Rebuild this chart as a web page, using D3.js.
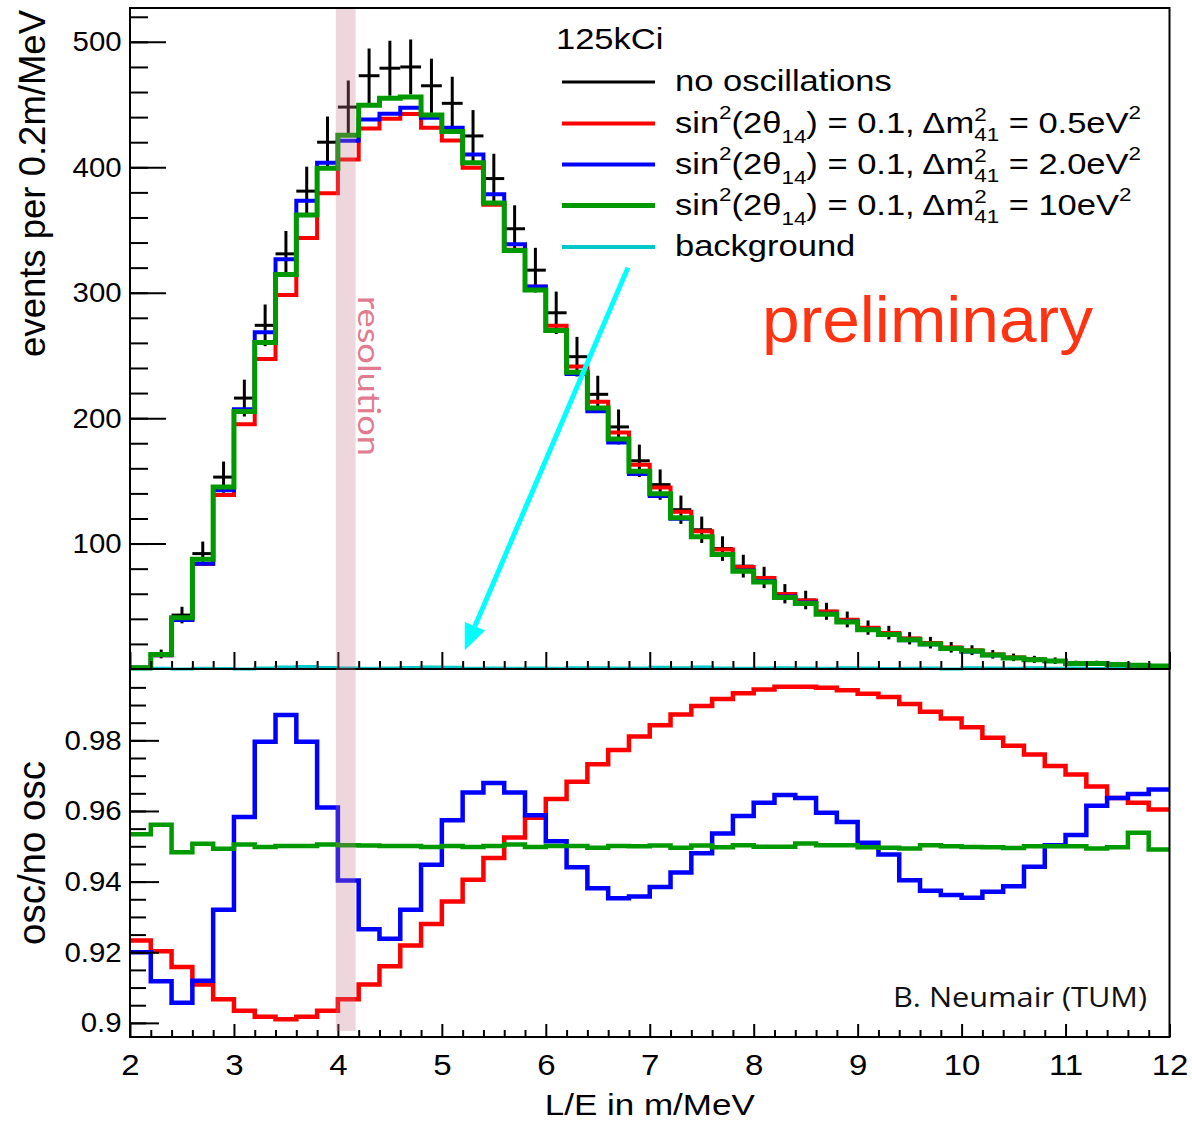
<!DOCTYPE html>
<html>
<head>
<meta charset="utf-8">
<script src="https://cdn.jsdelivr.net/npm/d3@7"></script>
<style>
  body { margin: 0; background: #fff; }
  svg { display: block; }
  text { white-space: pre; }
</style>
</head>
<body>
<div id="chart"></div>
<script>
// ---------------------------------------------------------------- data
// 50 bins of 0.2 m/MeV between 2 and 12
const binLow = d3.range(50).map(i => 2 + i * 0.2);

// events per bin, no oscillations (black crosses) and their errors
const noOsc = [1, 12, 43, 92, 153, 216, 274, 331, 381, 420,
  448, 473, 479, 480, 465, 451, 425, 391, 351, 318,
  284, 249, 219, 193, 166, 147, 127, 111, 96, 82,
  73, 60, 55, 46, 39.5, 33, 29, 24.5, 21, 17.3,
  15, 11.7, 9.3, 7.7, 6.6, 4.5, 4.5, 3.7, 3, 2.4];
const noOscErr = [1, 3.5, 6.6, 9.6, 12.4, 14.7, 16.6, 18.2, 19.5, 20.5,
  21.2, 21.7, 21.9, 21.9, 21.6, 21.2, 20.6, 19.8, 18.7, 17.8,
  16.9, 15.8, 14.8, 13.9, 12.9, 12.1, 11.3, 10.5, 9.8, 9.1,
  8.5, 7.7, 7.4, 6.8, 6.3, 5.7, 5.4, 4.9, 4.6, 4.2,
  3.9, 3.4, 3.0, 2.8, 2.6, 2.1, 2.1, 1.9, 1.7, 1.5];

// oscillated spectra (dm2 = 0.5, 2.0, 10 eV2)
const spec05 = [0.9, 11.0, 39.4, 83.8, 138.7, 195.1, 247.1, 298.2, 343.7, 379.4,
  406.3, 430.9, 438.8, 442.5, 431.5, 421.4, 399.7, 370.2, 334.3, 304.7,
  273.6, 241.1, 213.1, 188.6, 162.8, 144.7, 125.4, 109.9, 95.2, 81.4,
  72.6, 59.7, 54.7, 45.8, 39.3, 32.8, 28.8, 24.3, 20.7, 17.1,
  14.8, 11.5, 9.1, 7.5, 6.4, 4.4, 4.4, 3.6, 2.9, 2.3];
const spec20 = [0.9, 10.9, 39.0, 83.9, 142.6, 207.0, 268.5, 326.7, 373.4, 403.6,
  421.1, 438.2, 442.6, 447.4, 439.4, 431.6, 410.1, 378.5, 338.7, 305.0,
  270.1, 235.1, 205.4, 180.5, 155.4, 138.0, 119.8, 105.2, 91.6, 78.6,
  70.2, 57.9, 53.0, 44.1, 37.8, 31.4, 27.5, 23.0, 19.7, 16.2,
  14.0, 11.0, 8.7, 7.3, 6.3, 4.3, 4.3, 3.6, 2.9, 2.3];
const spec10 = [1.0, 11.5, 40.8, 87.5, 145.2, 205.3, 260.3, 314.5, 362.0, 399.2,
  425.6, 449.4, 455.1, 456.0, 441.7, 428.5, 403.7, 371.5, 333.6, 302.1,
  269.8, 236.6, 208.0, 183.4, 157.7, 139.7, 120.6, 105.5, 91.2, 77.9,
  69.4, 57.0, 52.3, 43.7, 37.5, 31.3, 27.6, 23.3, 20.0, 16.4,
  14.3, 11.1, 8.8, 7.3, 6.3, 4.3, 4.3, 3.5, 2.9, 2.3];
const background = [0, 0.6, 0, 0.5, 0.3, 0, 0.8, 1.6, 2.0, 1.2,
  0.8, 0.6, 0.8, 1.2, 1.5, 1.4, 0.6, 0.8, 0.5, 0.8,
  0.6, 0.9, 1.0, 0.7, 0.8, 1.3, 0.9, 1.5, 0.7, 0.6,
  0.8, 0.9, 0.7, 0.6, 1.0, 0.8, 0.4, 0.6, 0.8, 0,
  1.0, 0.7, 0.6, 0.9, 0.5, 0.8, 0.4, 0.8, 0.5, 0.6];

// osc / no osc ratios
const ratio05 = [0.9233, 0.9203, 0.9158, 0.9109, 0.9067, 0.9034, 0.9017, 0.9010, 0.9017, 0.9034,
  0.9067, 0.9109, 0.9160, 0.9219, 0.9280, 0.9344, 0.9405, 0.9467, 0.9525, 0.9581,
  0.9634, 0.9683, 0.9732, 0.9773, 0.9811, 0.9843, 0.9873, 0.9897, 0.9917, 0.9933,
  0.9944, 0.9952, 0.9952, 0.9949, 0.9942, 0.9932, 0.9923, 0.9903, 0.9881, 0.9862,
  0.9837, 0.9807, 0.9785, 0.9760, 0.9727, 0.9703, 0.9669, 0.9637, 0.9623, 0.9604];
const ratio20 = [0.9200, 0.9118, 0.9057, 0.9119, 0.9320, 0.9583, 0.9796, 0.9872, 0.9796, 0.9610,
  0.9403, 0.9265, 0.9238, 0.9320, 0.9448, 0.9574, 0.9652, 0.9679, 0.9652, 0.9588,
  0.9514, 0.9441, 0.9381, 0.9353, 0.9358, 0.9385, 0.9426, 0.9480, 0.9536, 0.9586,
  0.9623, 0.9645, 0.9637, 0.9595, 0.9569, 0.9510, 0.9477, 0.9404, 0.9374, 0.9362,
  0.9354, 0.9371, 0.9387, 0.9442, 0.9503, 0.9532, 0.9615, 0.9637, 0.9648, 0.9661];
const ratio10 = [0.9534, 0.9561, 0.9483, 0.9507, 0.9493, 0.9505, 0.9498, 0.9501, 0.9501, 0.9505,
  0.9503, 0.9502, 0.9501, 0.9501, 0.9498, 0.9501, 0.9498, 0.9501, 0.9505, 0.9498,
  0.9501, 0.9501, 0.9496, 0.9501, 0.9500, 0.9502, 0.9496, 0.9502, 0.9497, 0.9503,
  0.9499, 0.9499, 0.9508, 0.9503, 0.9503, 0.9497, 0.9496, 0.9494, 0.9503, 0.9500,
  0.9498, 0.9497, 0.9495, 0.9500, 0.9500, 0.9500, 0.9494, 0.9497, 0.9538, 0.9491];

// ticks and labels
const xTicks = [2, 3, 4, 5, 6, 7, 8, 9, 10, 11, 12];
const topYTicks = [100, 200, 300, 400, 500];
const ratioYTicks = [0.9, 0.92, 0.94, 0.96, 0.98];
const legendHeader = "125kCi";
const legendLabels = [
  "no oscillations",
  "sin^{2}(2θ_{14}) = 0.1, Δm^{2}_{41} = 0.5eV^{2}",
  "sin^{2}(2θ_{14}) = 0.1, Δm^{2}_{41} = 2.0eV^{2}",
  "sin^{2}(2θ_{14}) = 0.1, Δm^{2}_{41} = 10eV^{2}",
  "background"
];
const resolutionBand = [3.98, 4.17];
const arrowFrom = [6.79, 320], arrowTo = [5.22, 15];

////////////////////////////////////////////////////////////////////
//////////////////////////////  Init  //////////////////////////////
const FONT = "'Liberation Sans', Arial, Helvetica, sans-serif";
const width = 1192, height = 1124;
const svg = d3.select("#chart").append("svg")
  .attr("width", width).attr("height", height)
  .attr("font-family", FONT);

const frameL = 130, frameR = 1169.5, topT = 8, split = 669, botB = 1037;

const x = d3.scaleLinear().domain([2, 12]).range([frameL, frameR]);
const yTop = d3.scaleLinear().domain([0, 527]).range([split, topT]);
const yBot = d3.scaleLinear().domain([0.896, 1.0002]).range([botB, split]);

const colors = { none: "#000", m05: "#ff0000", m20: "#0000ff", m10: "#009900", bkg: "#00c8c8" };

function stepPath(values, y) {
  const pts = values.map((v, i) => [binLow[i], v]);
  pts.push([binLow[binLow.length - 1] + 0.2, values[values.length - 1]]);
  return d3.line().x(d => x(d[0])).y(d => y(d[1])).curve(d3.curveStepAfter)(pts);
}

function styleAxis(g, size, sx) {
  g.select(".domain").remove();
  g.attr("font-family", FONT).attr("font-size", size);
  g.selectAll(".tick line").attr("stroke", "#000").attr("stroke-width", 2);
  g.selectAll(".tick text").attr("fill", "#000").attr("transform", `scale(${sx},1)`);
}

////////////////////////////////////////////////////////////////////
//////////////////////////////  Top pad  ///////////////////////////
// black crosses
const cross = svg.append("g").attr("stroke", colors.none).attr("stroke-width", 3);
noOsc.forEach((v, i) => {
  const cx = x(binLow[i] + 0.1);
  cross.append("line")
    .attr("x1", x(binLow[i])).attr("x2", x(binLow[i] + 0.2))
    .attr("y1", yTop(v)).attr("y2", yTop(v));
  cross.append("line")
    .attr("x1", cx).attr("x2", cx)
    .attr("y1", yTop(Math.max(0, v - noOscErr[i]))).attr("y2", yTop(v + noOscErr[i]));
});

svg.append("path").attr("d", stepPath(background, yTop))
  .attr("fill", "none").attr("stroke", colors.bkg).attr("stroke-width", 3);
[[spec05, colors.m05, 4], [spec20, colors.m20, 4], [spec10, colors.m10, 5]].forEach(([vals, c, w]) => {
  svg.append("path").attr("d", stepPath(vals, yTop))
    .attr("fill", "none").attr("stroke", c).attr("stroke-width", w);
});

// axes of top pad
const gTopY = svg.append("g").attr("transform", `translate(${frameL},0)`)
  .call(d3.axisLeft(yTop).tickValues(topYTicks).tickSize(-36).tickPadding(8).tickFormat(d3.format("d")));
styleAxis(gTopY, 28, 1.05);
const gTopYm = svg.append("g").attr("transform", `translate(${frameL},0)`)
  .call(d3.axisLeft(yTop).tickValues(d3.range(20, 527, 20)).tickSize(-18).tickFormat(""));
styleAxis(gTopYm, 28, 1);

const minorX = binLow.filter((d, i) => i % 5 !== 0);
const gTopX = svg.append("g").attr("transform", `translate(0,${split})`)
  .call(d3.axisBottom(x).tickValues(xTicks).tickSize(-17).tickFormat(""));
styleAxis(gTopX, 28, 1);
const gTopXm = svg.append("g").attr("transform", `translate(0,${split})`)
  .call(d3.axisBottom(x).tickValues(minorX).tickSize(-8).tickFormat(""));
styleAxis(gTopXm, 28, 1);

// arrow towards the background
{
  const ax0 = x(arrowFrom[0]), ay0 = yTop(arrowFrom[1]);
  const ax1 = x(arrowTo[0]), ay1 = yTop(arrowTo[1]);
  const len = Math.hypot(ax1 - ax0, ay1 - ay0);
  const ux = (ax1 - ax0) / len, uy = (ay1 - ay0) / len;
  const hl = 26, hw = 11;
  svg.append("line")
    .attr("x1", ax0).attr("y1", ay0)
    .attr("x2", ax1 - ux * hl).attr("y2", ay1 - uy * hl)
    .attr("stroke", "#00ffff").attr("stroke-width", 5);
  const bx = ax1 - ux * hl, by = ay1 - uy * hl;
  svg.append("polygon")
    .attr("points", [[ax1, ay1], [bx - uy * hw, by + ux * hw], [bx + uy * hw, by - ux * hw]].map(p => p.join(",")).join(" "))
    .attr("fill", "#00ffff");
}

// titles
svg.append("text")
  .attr("transform", "translate(45,10) rotate(-90)")
  .attr("text-anchor", "end").attr("font-size", 36.5).attr("fill", "#000")
  .text("events per 0.2m/MeV");

svg.append("text")
  .attr("x", 762).attr("y", 342)
  .attr("font-size", 64).attr("fill", "#ff3311")
  .attr("textLength", 331).attr("lengthAdjust", "spacingAndGlyphs")
  .text("preliminary");

////////////////////////////////////////////////////////////////////
//////////////////////////////  Legend  ////////////////////////////
function parseTex(s) {
  const out = [];
  let i = 0, buf = "";
  while (i < s.length) {
    if ((s[i] === "^" || s[i] === "_") && s[i + 1] === "{") {
      if (buf) { out.push({ t: "n", s: buf }); buf = ""; }
      const j = s.indexOf("}", i);
      out.push({ t: s[i] === "^" ? "sup" : "sub", s: s.slice(i + 2, j) });
      i = j + 1;
    } else { buf += s[i]; i++; }
  }
  if (buf) out.push({ t: "n", s: buf });
  return out;
}

function texLabel(g, str, size) {
  const parts = parseTex(str);
  const small = size * 0.65;
  let cx = 0;
  for (let i = 0; i < parts.length; i++) {
    const p = parts[i];
    if (p.t === "n") {
      const t = g.append("text").attr("x", cx).attr("y", 0).attr("font-size", size).text(p.s);
      cx += t.node().getComputedTextLength();
    } else {
      let sup = p.t === "sup" ? p : null;
      let sub = p.t === "sub" ? p : null;
      const stacked = sup && parts[i + 1] && parts[i + 1].t === "sub";
      if (stacked) { sub = parts[i + 1]; i++; }
      let w = 0;
      if (sup) {
        const t = g.append("text").attr("x", cx)
          .attr("y", -size * (stacked ? 0.40 : 0.46)).attr("font-size", small).text(sup.s);
        w = Math.max(w, t.node().getComputedTextLength());
      }
      if (sub) {
        const t = g.append("text").attr("x", cx)
          .attr("y", size * (stacked ? 0.28 : 0.36)).attr("font-size", small).text(sub.s);
        w = Math.max(w, t.node().getComputedTextLength());
      }
      cx += w;
    }
  }
}

const legend = svg.append("g");
const legendSize = 29, legendSx = 1.19;
const rowLineY = [82, 123.5, 164.5, 205.5, 247];
const legendColors = [colors.none, colors.m05, colors.m20, colors.m10, colors.bkg];
const legendWidths = [3, 4, 4, 5, 4];

legend.append("g").attr("transform", `translate(556,49) scale(${legendSx},1)`)
  .append("text").attr("font-size", legendSize).attr("fill", "#000").text(legendHeader);

legendLabels.forEach((lab, i) => {
  legend.append("line")
    .attr("x1", 562).attr("x2", 655)
    .attr("y1", rowLineY[i]).attr("y2", rowLineY[i])
    .attr("stroke", legendColors[i]).attr("stroke-width", legendWidths[i]);
  const g = legend.append("g")
    .attr("transform", `translate(675,${rowLineY[i] + 9}) scale(${legendSx},1)`)
    .attr("fill", "#000");
  texLabel(g, lab, legendSize);
});

////////////////////////////////////////////////////////////////////
//////////////////////////////  Ratio pad  /////////////////////////
[[ratio05, colors.m05], [ratio20, colors.m20], [ratio10, colors.m10]].forEach(([vals, c]) => {
  svg.append("path").attr("d", stepPath(vals, yBot))
    .attr("fill", "none").attr("stroke", c).attr("stroke-width", 4.5);
});

const gBotY = svg.append("g").attr("transform", `translate(${frameL},0)`)
  .call(d3.axisLeft(yBot).tickValues(ratioYTicks).tickSize(-29).tickPadding(8).tickFormat(d3.format("~g")));
styleAxis(gBotY, 28, 1.05);
const gBotYm = svg.append("g").attr("transform", `translate(${frameL},0)`)
  .call(d3.axisLeft(yBot).tickValues(d3.range(180, 200).map(k => k * 0.005)).tickSize(-16).tickFormat(""));
styleAxis(gBotYm, 28, 1);

const gBotX = svg.append("g").attr("transform", `translate(0,${botB})`)
  .call(d3.axisBottom(x).tickValues(xTicks).tickSize(-13).tickPadding(17).tickFormat(d3.format("d")));
styleAxis(gBotX, 30, 1.1);
const gBotXm = svg.append("g").attr("transform", `translate(0,${botB})`)
  .call(d3.axisBottom(x).tickValues(minorX).tickSize(-7).tickFormat(""));
styleAxis(gBotXm, 30, 1);

svg.append("text")
  .attr("transform", `translate(45,${(split + botB) / 2}) rotate(-90)`)
  .attr("text-anchor", "middle").attr("font-size", 38.5).attr("fill", "#000")
  .text("osc/no osc");

svg.append("text")
  .attr("x", (frameL + frameR) / 2).attr("y", 1115)
  .attr("text-anchor", "middle").attr("font-size", 30).attr("fill", "#000")
  .attr("textLength", 210).attr("lengthAdjust", "spacingAndGlyphs")
  .text("L/E in m/MeV");

svg.append("text")
  .attr("x", 1147).attr("y", 1007).attr("text-anchor", "end")
  .attr("font-family", "'Open Sans', sans-serif").attr("font-size", 28).attr("fill", "#111")
  .attr("textLength", 254).attr("lengthAdjust", "spacingAndGlyphs")
  .text("B. Neumair (TUM)");

////////////////////////////////////////////////////////////////////
//////////////////////////////  Frames & band  /////////////////////
svg.append("rect")
  .attr("x", frameL).attr("y", topT).attr("width", frameR - frameL).attr("height", split - topT)
  .attr("fill", "none").attr("stroke", "#000").attr("stroke-width", 2);
svg.append("rect")
  .attr("x", frameL).attr("y", split).attr("width", frameR - frameL).attr("height", botB - split)
  .attr("fill", "none").attr("stroke", "#000").attr("stroke-width", 2);

svg.append("rect")
  .attr("x", x(resolutionBand[0])).attr("width", x(resolutionBand[1]) - x(resolutionBand[0]))
  .attr("y", topT + 1).attr("height", 1031 - topT - 1)
  .attr("fill", "#c47a8c").attr("opacity", 0.3);

svg.append("text")
  .attr("transform", `translate(${x(resolutionBand[1]) + 2},296) rotate(90)`)
  .attr("font-family", "Lato, 'Open Sans', sans-serif").attr("font-weight", 400)
  .attr("font-size", 31).attr("fill", "#e27a90")
  .attr("textLength", 160).attr("lengthAdjust", "spacingAndGlyphs")
  .text("resolution");
</script>
</body>
</html>
